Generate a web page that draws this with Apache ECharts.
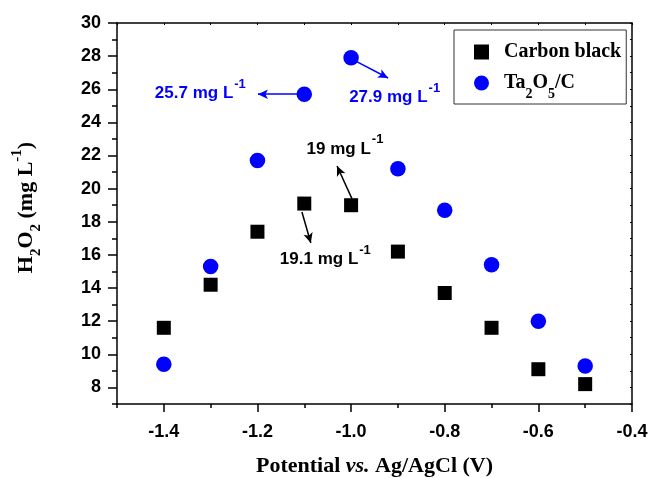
<!DOCTYPE html>
<html>
<head>
<meta charset="utf-8">
<script src="https://cdn.jsdelivr.net/npm/echarts@6/dist/echarts.min.js"></script>
<style>
  html, body { margin: 0; padding: 0; background: #fff; }
  #box { width: 653px; height: 478px; }
</style>
</head>
<body>
<div id="box"></div>
<script>
// 数据
var potentials = [-1.4, -1.3, -1.2, -1.1, -1.0, -0.9, -0.8, -0.7, -0.6, -0.5]
var carbonBlack = [11.6, 14.2, 17.4, 19.1, 19.0, 16.2, 13.7, 11.6, 9.1, 8.2]
var ta2o5 = [9.4, 15.3, 21.7, 25.7, 27.9, 21.2, 18.7, 15.4, 12.0, 9.3]
var xTicks = [-1.4, -1.2, -1.0, -0.8, -0.6, -0.4]
var yTicks = [8, 10, 12, 14, 16, 18, 20, 22, 24, 26, 28, 30]

var box = document.getElementById('box')
var chart = echarts.init(box, null, { renderer: 'canvas' })

var sans = 'Liberation Sans'
var serif = 'Liberation Serif'
var blue = '#0000ff'

function pairs(xs, ys) {
    return xs.map(function (x, i) { return [x, ys[i]] })
}

function arrow(a, b) {
    return [{ coord: a, symbol: 'none' }, { coord: b, symbol: 'arrow' }]
}

var xBase = { type: 'value', min: -1.5, max: -0.4, splitLine: { show: false } }
var yBase = { type: 'value', min: 7, max: 30, splitLine: { show: false } }
var lineStyle = { color: '#000', width: 1.5 }

option = {
    animation: false,
    backgroundColor: '#fff',
    grid: { left: 117, right: 21, top: 23, bottom: 74, outerBoundsMode: 'none' },
    legend: {
        orient: 'vertical',
        left: 454,
        top: 30,
        padding: [12, 5, 3, 20],
        itemGap: 11,
        itemWidth: 15,
        itemHeight: 15,
        borderColor: '#333',
        borderWidth: 1,
        textStyle: {
            fontFamily: serif, fontWeight: 'bold', fontSize: 20, color: '#000',
            padding: [0, 0, 0, 10],
            rich: {
                n: { fontFamily: serif, fontWeight: 'bold', fontSize: 20, color: '#000' },
                s: { fontFamily: serif, fontWeight: 'bold', fontSize: 14, color: '#000', verticalAlign: 'bottom', padding: [0, 0, -8, 0] }
            }
        },
        formatter: function (name) {
            if (name === 'Ta2O5/C') return '{n|Ta}{s|2}{n|O}{s|5}{n|/C}'
            return name
        },
        data: [{ name: 'Carbon black', icon: 'rect' }, { name: 'Ta2O5/C', icon: 'circle' }]
    },
    xAxis: [
        Object.assign({}, xBase, {
            position: 'bottom',
            interval: 0.1,
            axisLine: { lineStyle: lineStyle },
            axisTick: { length: 4, lineStyle: lineStyle },
            axisLabel: {
                customValues: xTicks,
                formatter: function (v) { return v.toFixed(1) },
                color: '#000', fontFamily: sans, fontWeight: 'bold', fontSize: 18, margin: 19
            },
            name: '{t|Potential }{i|vs.}{t| Ag/AgCl (V)}',
            nameLocation: 'middle',
            nameGap: 51,
            nameTextStyle: {
                rich: {
                    t: { fontFamily: serif, fontWeight: 'bold', fontSize: 22, color: '#000' },
                    i: { fontFamily: serif, fontWeight: 'bold', fontStyle: 'italic', fontSize: 22, color: '#000' }
                }
            }
        }),
        Object.assign({}, xBase, {
            position: 'bottom',
            axisLine: { show: false },
            axisTick: { customValues: xTicks, length: 8, lineStyle: lineStyle },
            axisLabel: { show: false }
        }),
        Object.assign({}, xBase, {
            position: 'top',
            interval: 0.1,
            axisLine: { lineStyle: lineStyle },
            axisTick: { inside: true, length: 2, lineStyle: { color: '#000', width: 1 } },
            axisLabel: { show: false }
        })
    ],
    yAxis: [
        Object.assign({}, yBase, {
            position: 'left',
            interval: 1,
            axisLine: { lineStyle: lineStyle },
            axisTick: { length: 5, lineStyle: lineStyle },
            axisLabel: {
                customValues: yTicks,
                color: '#000', fontFamily: sans, fontWeight: 'bold', fontSize: 18, margin: 16
            },
            name: '{t|H}{sub|2}{t|O}{sub|2}{t| (mg L}{sup|-1}{t|)}',
            nameLocation: 'middle',
            nameGap: 80,
            nameTextStyle: {
                padding: [0, 0, 0, 12],
                rich: {
                    t: { fontFamily: serif, fontWeight: 'bold', fontSize: 22, color: '#000' },
                    sub: { fontFamily: serif, fontWeight: 'bold', fontSize: 15, color: '#000', verticalAlign: 'bottom', padding: [0, 0, -7, 0] },
                    sup: { fontFamily: serif, fontWeight: 'bold', fontSize: 15, color: '#000', verticalAlign: 'top', padding: [-5, 0, 0, 0] }
                }
            }
        }),
        Object.assign({}, yBase, {
            position: 'left',
            axisLine: { show: false },
            axisTick: { customValues: yTicks, length: 9, lineStyle: lineStyle },
            axisLabel: { show: false }
        }),
        Object.assign({}, yBase, {
            position: 'right',
            interval: 1,
            axisLine: { lineStyle: lineStyle },
            axisTick: { inside: true, length: 2, lineStyle: { color: '#000', width: 1 } },
            axisLabel: { show: false }
        })
    ],
    series: [
        {
            name: 'Carbon black',
            type: 'scatter',
            symbol: 'rect',
            symbolSize: 14,
            itemStyle: { color: '#000', opacity: 1 },
            data: pairs(potentials, carbonBlack),
            markLine: {
                silent: true,
                symbolSize: [7, 10],
                label: { show: false },
                lineStyle: { color: '#000', width: 1.5, type: 'solid' },
                data: [
                    arrow([-0.998, 19.38], [-1.030, 21.37]),
                    arrow([-1.105, 18.59], [-1.086, 16.72])
                ]
            }
        },
        {
            name: 'Ta2O5/C',
            type: 'scatter',
            symbol: 'circle',
            symbolSize: 15.5,
            itemStyle: { color: blue, opacity: 1 },
            data: pairs(potentials, ta2o5),
            markLine: {
                silent: true,
                symbolSize: [7, 10],
                label: { show: false },
                lineStyle: { color: blue, width: 1.5, type: 'solid' },
                data: [
                    arrow([-1.109, 25.7], [-1.199, 25.7]),
                    arrow([-0.987, 27.65], [-0.921, 26.68])
                ]
            }
        }
    ]
};

chart.setOption(option)

// 标注文字
var notes = [
    { at: [-1.322, 25.75], text: '25.7 mg L', color: blue },
    { at: [-0.907, 25.5], text: '27.9 mg L', color: blue },
    { at: [-1.013, 22.4], text: '19 mg L', color: '#000' },
    { at: [-1.055, 15.75], text: '19.1 mg L', color: '#000' }
]
var graphic = notes.map(function (n) {
    var p = chart.convertToPixel({ seriesIndex: 0 }, n.at)
    return {
        type: 'text',
        x: p[0],
        y: p[1],
        z: 100,
        style: {
            text: '{a|' + n.text + '}{b|-1}',
            align: 'center',
            verticalAlign: 'middle',
            rich: {
                a: { fontFamily: sans, fontWeight: 'bold', fontSize: 17, fill: n.color, color: n.color },
                b: { fontFamily: sans, fontWeight: 'bold', fontSize: 13, fill: n.color, color: n.color, verticalAlign: 'top', padding: [-7, 0, 0, 1] }
            }
        }
    }
})
chart.setOption({ graphic: graphic })
</script>
</body>
</html>
